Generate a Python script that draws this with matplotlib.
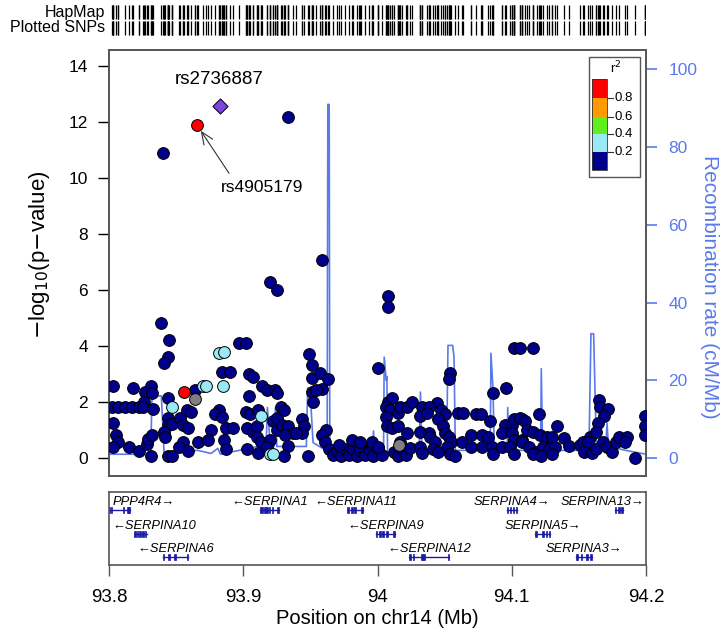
import matplotlib
matplotlib.use("Agg")
import matplotlib.pyplot as plt
from matplotlib.patches import Rectangle

plt.rcParams['font.family'] = ['Liberation Sans', 'DejaVu Sans']

# ---------------- data ----------------
navy_pos = [
    93.840, 93.9335, 93.959, 93.920, 93.925, 94.008, 94.008, 93.839, 93.845, 93.844,
    93.841, 93.897, 93.902, 93.949, 93.951, 93.951, 93.957, 93.951, 93.952, 93.864,
    93.803, 93.818, 93.827, 93.831, 93.832, 93.826, 93.8025, 93.807, 93.812, 93.817,
    93.822, 93.8255, 93.833, 93.844, 93.803, 93.805, 93.807, 93.803, 93.815, 93.822,
    93.828, 93.829, 93.832, 93.831, 93.844, 93.844, 93.847, 93.841, 93.842, 93.844,
    93.847, 93.853, 93.855, 93.858, 93.861, 93.859, 93.855, 93.852, 93.859, 93.866,
    93.884, 93.890, 93.904, 93.907, 93.904, 93.914, 93.918, 93.924, 93.925, 93.882,
    93.879, 93.884, 93.876, 93.874, 93.887, 93.892, 93.886, 93.887, 93.902, 93.905,
    93.911, 93.903, 93.907, 93.910, 93.910, 93.913, 93.911, 93.903, 93.922, 93.925,
    93.928, 93.930, 93.925, 93.929, 93.933, 93.937, 93.931, 93.933, 93.930, 93.920,
    93.918, 93.944, 93.945, 93.944, 93.948, 93.939, 94.000, 93.963, 93.959, 93.954,
    93.962, 93.959, 93.961,
    93.964, 93.967, 93.970, 93.973, 93.976, 93.979, 93.982, 93.985, 93.988, 93.991,
    93.994, 93.997, 94.000, 94.003, 94.012, 94.015, 94.018, 94.021, 94.024, 93.971,
    93.986, 93.996, 93.981, 93.987, 93.996, 94.000,
    94.008, 94.011, 94.006, 94.009, 94.006, 94.007, 94.015, 94.017, 94.022, 94.026,
    94.011, 94.015, 94.022, 94.017,
    94.102, 94.106, 94.116, 94.054, 94.053, 94.086, 94.096, 94.044, 94.033, 94.038,
    94.032, 94.037, 94.047, 94.050, 94.060, 94.064, 94.073, 94.077, 94.084, 94.045,
    94.049, 94.050, 94.032, 94.038, 94.039, 94.053, 94.055, 94.052, 94.043, 94.041,
    94.045, 94.032, 94.033, 94.054, 94.058, 94.063, 94.070, 94.078, 94.082, 94.070,
    94.078, 94.085, 94.086, 94.095, 94.100, 94.102, 94.108, 94.093, 94.100, 94.102,
    94.093, 94.099, 94.102, 94.108,
    94.120, 94.106, 94.110, 94.111, 94.116, 94.121, 94.126, 94.130, 94.134, 94.108,
    94.113, 94.119, 94.123, 94.128, 94.132, 94.139, 94.143, 94.116, 94.122, 94.130,
    94.151, 94.153, 94.158, 94.157, 94.154, 94.160, 94.163, 94.165, 94.166, 94.172,
    94.169, 94.164, 94.163, 94.168, 94.171, 94.175, 94.178, 94.180, 94.186, 94.184,
    94.192, 94.199, 94.199, 94.199,
]
navy_logp = [
    10.90, 12.18, 7.07, 6.29, 6.00, 5.79, 5.39, 4.82, 4.21, 3.61,
    3.39, 4.11, 4.11, 3.71, 3.32, 2.86, 3.04, 2.36, 2.00, 2.43,
    2.57, 2.50, 2.36, 2.54, 2.32, 2.00, 1.79, 1.79, 1.79, 1.79,
    1.79, 1.79, 1.75, 2.14, 1.25, 0.79, 0.57, 0.39, 0.39, 0.25,
    0.50, 0.68, 0.82, 0.07, 1.43, 1.18, 1.21, 0.93, 0.75, 0.07,
    0.07, 1.43, 1.18, 1.71, 1.64, 1.07, 0.54, 0.39, 0.25, 0.57,
    3.07, 3.07, 3.00, 2.89, 2.21, 2.57, 2.43, 2.43, 2.32, 1.71,
    1.54, 1.46, 1.00, 0.64, 1.07, 1.07, 0.64, 0.29, 1.64, 1.54,
    1.71, 1.07, 0.93, 1.11, 0.75, 0.54, 0.18, 0.29, 1.29, 1.43,
    1.82, 1.71, 1.00, 1.18, 1.11, 0.89, 0.82, 0.43, 0.07, 0.64,
    0.39, 1.36, 1.11, 0.89, 0.07, 0.89, 3.21, 2.79, 2.46, 2.43,
    1.00, 0.82, 0.57,
    0.30, 0.10, 0.25, 0.05, 0.30, 0.10, 0.30, 0.05, 0.25, 0.10,
    0.30, 0.05, 0.35, 0.10, 0.20, 0.05, 0.30, 0.10, 0.35, 0.45,
    0.40, 0.45, 0.64, 0.54, 0.54, 0.39,
    2.00, 2.14, 1.79, 1.71, 1.46, 1.11, 1.61, 1.82, 1.82, 2.00,
    1.07, 1.11, 0.89, 0.57,
    3.93, 3.93, 3.93, 3.04, 2.82, 2.29, 2.50, 1.96, 1.82, 1.82,
    1.50, 1.61, 1.71, 1.54, 1.61, 1.61, 1.54, 1.54, 1.32, 1.36,
    1.11, 0.89, 0.93, 0.89, 0.75, 0.75, 0.54, 0.39, 0.54, 0.29,
    0.21, 0.39, 0.18, 0.11, 0.07, 0.54, 0.79, 0.82, 0.75, 0.39,
    0.39, 0.39, 0.11, 1.18, 1.18, 1.36, 1.36, 0.89, 0.89, 0.64,
    0.39, 0.39, 0.11, 0.64,
    1.57, 1.43, 1.29, 1.00, 0.93, 0.82, 0.75, 0.75, 1.11, 0.54,
    0.39, 0.21, 0.39, 0.29, 0.39, 0.71, 0.43, 0.11, 0.04, 0.11,
    0.46, 0.57, 0.75, 0.54, 0.21, 0.18, 0.29, 2.07, 1.82, 1.75,
    1.50, 1.25, 0.93, 0.54, 0.39, 0.21, 0.54, 0.75, 0.75, 0.54,
    0.00, 1.50, 1.14, 0.82,
]
lightblue_pos = [93.882, 93.886, 93.870, 93.872, 93.885, 93.847, 93.913, 93.920, 93.922]
lightblue_logp = [3.75, 3.79, 2.57, 2.57, 2.57, 1.79, 1.50, 0.14, 0.14]
red_pos = [93.8655, 93.856]
red_logp = [11.89, 2.36]
gray_pos = [93.864, 94.016]
gray_logp = [2.11, 0.45]
lead_pos = [93.8827]
lead_logp = [12.57]
lead_name = "rs2736887"
second_name = "rs4905179"

recomb_pos = [
    93.800, 93.831, 93.832, 93.834, 93.839, 93.841, 93.866, 93.876, 93.881, 93.883,
    93.911, 93.917, 93.918, 93.920, 93.923, 93.924, 93.925, 93.947, 93.948, 93.950,
    93.952, 93.9615, 93.9625, 93.963, 93.964, 93.9645, 93.996, 93.997, 93.998, 94.0045,
    94.005, 94.0065, 94.007, 94.0075, 94.031, 94.032, 94.033, 94.0515, 94.0525, 94.056,
    94.057, 94.058, 94.084, 94.0845, 94.086, 94.087, 94.0965, 94.097, 94.098, 94.1215,
    94.122, 94.123, 94.1575, 94.159, 94.161, 94.163, 94.170, 94.171, 94.172, 94.185,
    94.200,
]
recomb_rate = [
    1.0, 1.0, 15.0, 16.0, 16.0, 1.5, 2.0, 1.2, 2.5, 1.0,
    3.0, 3.0, 13.0, 4.0, 3.0, 13.0, 3.0, 3.0, 18.0, 16.0,
    4.0, 2.0, 2.0, 91.0, 91.0, 1.0, 1.0, 7.0, 1.0, 1.0,
    26.0, 20.0, 21.0, 1.5, 1.5, 17.0, 1.5, 2.0, 29.0, 29.0,
    26.0, 2.0, 2.0, 27.0, 18.0, 2.0, 2.0, 13.0, 2.0, 2.0,
    23.0, 2.0, 2.0, 32.0, 32.0, 3.0, 3.0, 9.0, 3.0, 2.0,
    1.0,
]

gene_names = ["PPP4R4", "SERPINA1", "SERPINA11", "SERPINA4", "SERPINA13",
              "SERPINA10", "SERPINA9", "SERPINA5",
              "SERPINA6", "SERPINA12", "SERPINA3"]
gene_start = [93.8005, 93.9125, 93.9780, 94.0965, 94.1770,
              93.8190, 93.9990, 94.1176,
              93.8400, 94.0237, 94.1480]
gene_end = [93.8157, 93.9265, 93.9893, 94.1040, 94.1830,
            93.8280, 94.0128, 94.1288,
            93.8590, 94.0536, 94.1595]
gene_strand = ["+", "-", "-", "+", "+", "-", "-", "+", "-", "-", "+"]
gene_row = [0, 0, 0, 0, 0, 1, 1, 1, 2, 2, 2]
gene_exons = [
    [93.8005, 93.8019, 93.8107, 93.8141, 93.8150],
    [93.9128, 93.9141, 93.9160, 93.9179, 93.9195, 93.9219, 93.9258],
    [93.9781, 93.9808, 93.9832, 93.9886],
    [94.0968, 94.0992, 94.1013, 94.1034],
    [94.1773, 94.1800, 94.1822],
    [93.8192, 93.8213, 93.8232, 93.8253, 93.8272],
    [93.9992, 94.0019, 94.0040, 94.0072, 94.0122],
    [94.1179, 94.1235, 94.1259, 94.1282],
    [93.8405, 93.8445, 93.8493, 93.8584],
    [94.0240, 94.0267, 94.0333, 94.0347, 94.0530],
    [94.1485, 94.1520, 94.1560, 94.1589],
]

ld_breaks = [0.2, 0.4, 0.6, 0.8]
ld_colors = ["#00008B", "#9AEAF5", "#5FEF1F", "#FF9A00", "#FF0000"]

x_ticks = [93.8, 93.9, 94.0, 94.1, 94.2]
x_tick_labels = ["93.8", "93.9", "94", "94.1", "94.2"]
y_ticks = [0, 2, 4, 6, 8, 10, 12, 14]
r_ticks = [0, 20, 40, 60, 80, 100]

# ---------------- styling ----------------
NAVY = ld_colors[0]
LBLUE = ld_colors[1]
RED = ld_colors[4]
GRAY = "#808080"
PURPLE = "#7B47DB"
RCOL = "#5A7AEB"
SPINE = "#555555"
XMIN, XMAX = 93.8, 94.2

fig = plt.figure(figsize=(7.26, 6.37), dpi=100)

L, W = 109 / 726, 537 / 726
ax = fig.add_axes([L, 1 - 476 / 637, W, 426 / 637])
ax2 = ax.twinx()
ax2.plot(recomb_pos, recomb_rate, color=RCOL, lw=1.2, zorder=1)
ax.set_zorder(ax2.get_zorder() + 1)
ax.patch.set_visible(False)

sk = dict(s=72, edgecolors="black", linewidths=0.7)
ax.scatter(navy_pos, navy_logp, c=NAVY, zorder=3, **sk)
ax.scatter(lightblue_pos, lightblue_logp, c=LBLUE, zorder=4, **sk)
ax.scatter(gray_pos, gray_logp, c=GRAY, zorder=4, **sk)
ax.scatter(red_pos, red_logp, c=RED, zorder=5, **sk)
ax.scatter(lead_pos, lead_logp, c=PURPLE, marker="D", s=60, edgecolors="black",
           linewidths=0.7, zorder=6)

ax.set_xlim(XMIN, XMAX)
ax.set_ylim(-0.66, 14.57)
ax2.set_ylim(-4.6, 105)
ax.set_xticks([])
ax2.set_xticks([])
ax.set_yticks(y_ticks)
ax.set_yticklabels([str(t) for t in y_ticks])
ax.tick_params(axis="y", direction="out", length=8, width=1, colors="black",
               labelsize=12.5, pad=7)
ax2.set_yticks(r_ticks)
ax2.set_yticklabels([str(t) for t in r_ticks])
ax2.tick_params(axis="y", direction="out", length=8, width=1.2, colors=RCOL,
                labelcolor=RCOL, labelsize=12.5, pad=8)
for a in (ax, ax2):
    for sp in a.spines.values():
        sp.set_color(SPINE)
        sp.set_linewidth(1.2)

fig.text(40 / 726, 1 - 255 / 637, r"$-$log$_{10}$(p$-$value)", fontsize=16,
         rotation=90, ha="center", va="center")
fig.text(709 / 726, 1 - 287 / 637, "Recombination rate (cM/Mb)", fontsize=15,
         color=RCOL, rotation=270, ha="center", va="center")

# annotations
ax.text(93.882, 13.5, lead_name, ha="center", va="center", fontsize=13.5)
ax.annotate(second_name, xy=(red_pos[0], red_logp[0]), xytext=(93.914, 9.67),
            ha="center", va="center", fontsize=12.5,
            arrowprops=dict(arrowstyle="->,head_length=0.7,head_width=0.3",
                            color="#333333", lw=0.8, relpos=(0.15, 1.0),
                            shrinkA=3, shrinkB=5))

# legend
lx0, lx1 = 0.8994, 0.9274
bounds = [0.718, 0.761, 0.803, 0.843, 0.887, 0.932]
ax.add_patch(Rectangle((0.894, 0.702), 0.095, 0.2816, transform=ax.transAxes,
                       facecolor="white", edgecolor=SPINE, lw=1.0, zorder=10))
for i, col in enumerate(ld_colors):
    ax.add_patch(Rectangle((lx0, bounds[i]), lx1 - lx0, bounds[i + 1] - bounds[i],
                           transform=ax.transAxes, facecolor=col, edgecolor="none",
                           zorder=11))
ax.add_patch(Rectangle((lx0, bounds[0]), lx1 - lx0, bounds[-1] - bounds[0],
                       transform=ax.transAxes, facecolor="none", edgecolor="#333333",
                       lw=0.6, zorder=12))
for i, b in enumerate(ld_breaks):
    yb = bounds[i + 1]
    ax.plot([lx1, lx1 + 0.011], [yb, yb], transform=ax.transAxes, color="#333333",
            lw=0.8, zorder=12)
    ax.text(lx1 + 0.014, yb, str(b), transform=ax.transAxes, ha="left", va="center",
            fontsize=9.5, zorder=12)
ax.text(0.943, 0.958, r"r$^2$", transform=ax.transAxes, ha="center", va="center",
        fontsize=9.5, zorder=12)

# ---------------- gene panel ----------------
gx = fig.add_axes([L, 1 - 565 / 637, W, 73 / 637])
gx.set_xlim(XMIN, XMAX)
gx.set_ylim(0, 1)
text_y = [0.863, 0.534, 0.219]
bar_y = [0.753, 0.425, 0.110]
GENE_COL = "#1A1AA6"
for name, s, e, st, r, ex in zip(gene_names, gene_start, gene_end, gene_strand,
                                 gene_row, gene_exons):
    gx.plot([s, e], [bar_y[r], bar_y[r]], color=GENE_COL, lw=1.0)
    for x0 in ex:
        gx.add_patch(Rectangle((x0 - 0.0006, bar_y[r] - 0.035), 0.0012, 0.07,
                               facecolor=GENE_COL, edgecolor=GENE_COL, lw=0.5))
    label = name + "\u2192" if st == "+" else "\u2190" + name
    if s < 93.83:
        tx_, ha = 93.8025, "left"
    elif e > 94.175:
        tx_, ha = 94.1985, "right"
    else:
        tx_, ha = (s + e) / 2, "center"
    gx.text(tx_, text_y[r], label, ha=ha, va="center", fontsize=9.3, style="italic")
gx.set_yticks([])
gx.set_xticks(x_ticks)
gx.set_xticklabels(x_tick_labels)
gx.tick_params(axis="x", direction="out", length=8, width=1, colors=SPINE,
               labelcolor="black", labelsize=13.5, pad=9)
for sp in gx.spines.values():
    sp.set_color(SPINE)
    sp.set_linewidth(1.2)
fig.text(377 / 726, 1 - 619 / 637, "Position on chr14 (Mb)", fontsize=14.5,
         ha="center", va="center")

# ---------------- SNP tracks ----------------
tx = fig.add_axes([L, 1 - 36 / 637, W, 32 / 637])
tx.set_xlim(XMIN, XMAX)
tx.set_ylim(0, 2)
all_pos = navy_pos + lightblue_pos + red_pos + gray_pos + lead_pos
tx.vlines(all_pos, 1.06, 1.94, color="black", lw=0.9)
tx.vlines(all_pos, 0.06, 0.94, color="black", lw=0.9)
tx.axis("off")
tr = tx.get_yaxis_transform()
tx.text(-0.008, 1.5, "HapMap", transform=tr, ha="right", va="center", fontsize=11.5)
tx.text(-0.008, 0.5, "Plotted SNPs", transform=tr, ha="right", va="center",
        fontsize=11.5)

fig.savefig("out.png", dpi=100)
